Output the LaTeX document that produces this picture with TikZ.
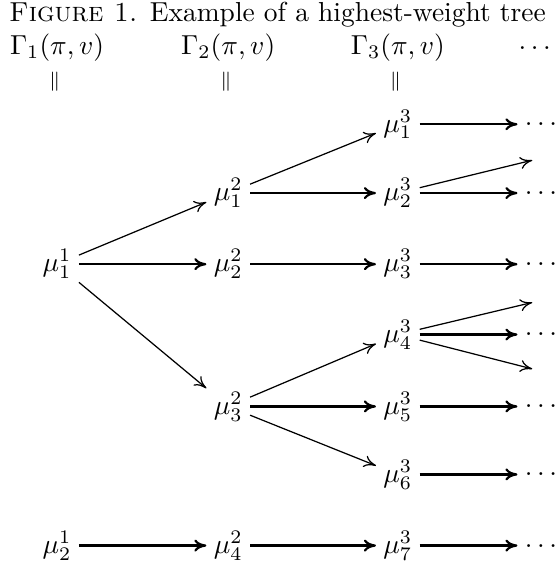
\documentclass[tikz,border=0pt]{standalone}
\usepackage{amsmath, amssymb}
\usetikzlibrary{arrows.meta}

\begin{document}
\begin{tikzpicture}[
    wt/.style={inner sep=2.5pt},
    arr/.style={-{To[length=4.4pt, width=4.4pt]}, line width=0.45pt},
    harr/.style={arr, line width=0.8pt},
    eq/.style={inner sep=0pt}
]
\useasboundingbox (0,0) rectangle (7.10,-7.28);

% caption and column headers
\node (cap) at (3.55,-0.19) {\textsc{Figure 1.} Example of a highest-weight tree};
\node (g1) at (0.73,-0.61) {$\Gamma_1(\pi,v)$};
\node (g2) at (2.92,-0.61) {$\Gamma_2(\pi,v)$};
\node (g3) at (5.09,-0.61) {$\Gamma_3(\pi,v)$};
\node (gd) at (6.87,-0.61) {$\dots$};
\node[eq] (e1) at (0.70,-1.05) {$\scriptstyle\|$};
\node[eq] (e2) at (2.89,-1.05) {$\scriptstyle\|$};
\node[eq] (e3) at (5.06,-1.05) {$\scriptstyle\|$};

% weights
\node[wt] (a1) at (0.73,-3.38) {$\mu^1_1$};
\node[wt] (a2) at (0.73,-6.98) {$\mu^1_2$};
\node[wt] (b1) at (2.92,-2.47) {$\mu^2_1$};
\node[wt] (b2) at (2.92,-3.38) {$\mu^2_2$};
\node[wt] (b3) at (2.92,-5.20) {$\mu^2_3$};
\node[wt] (b4) at (2.92,-6.98) {$\mu^2_4$};
\node[wt] (c1) at (5.09,-1.59) {$\mu^3_1$};
\node[wt] (c2) at (5.09,-2.47) {$\mu^3_2$};
\node[wt] (c3) at (5.09,-3.38) {$\mu^3_3$};
\node[wt] (c4) at (5.09,-4.28) {$\mu^3_4$};
\node[wt] (c5) at (5.09,-5.20) {$\mu^3_5$};
\node[wt] (c6) at (5.09,-6.07) {$\mu^3_6$};
\node[wt] (c7) at (5.09,-6.98) {$\mu^3_7$};
\node[wt] (d1) at (6.95,-1.59) {$\dots$};
\node[wt] (d2) at (6.95,-2.47) {$\dots$};
\node[wt] (d3) at (6.95,-3.38) {$\dots$};
\node[wt] (d4) at (6.95,-4.28) {$\dots$};
\node[wt] (d5) at (6.95,-5.20) {$\dots$};
\node[wt] (d6) at (6.95,-6.07) {$\dots$};
\node[wt] (d7) at (6.95,-6.98) {$\dots$};
\coordinate (u2) at (6.81,-2.05);
\coordinate (u4) at (6.81,-3.87);
\coordinate (l4) at (6.81,-4.72);

% edges
\draw[arr] (a1) -- (b1);
\draw[harr] (a1) -- (b2);
\draw[arr] (a1) -- (b3);
\draw[harr] (a2) -- (b4);
\draw[arr] (b1) -- (c1);
\draw[harr] (b1) -- (c2);
\draw[harr] (b2) -- (c3);
\draw[arr] (b3) -- (c4);
\draw[harr] (b3) -- (c5);
\draw[arr] (b3) -- (c6);
\draw[harr] (b4) -- (c7);
\draw[harr] (c1) -- (d1);
\draw[harr] (c2) -- (d2);
\draw[arr] (c2) -- (u2);
\draw[harr] (c3) -- (d3);
\draw[arr] (c4) -- (u4);
\draw[harr] (c4) -- (d4);
\draw[arr] (c4) -- (l4);
\draw[harr] (c5) -- (d5);
\draw[harr] (c6) -- (d6);
\draw[harr] (c7) -- (d7);
\end{tikzpicture}
\end{document}
